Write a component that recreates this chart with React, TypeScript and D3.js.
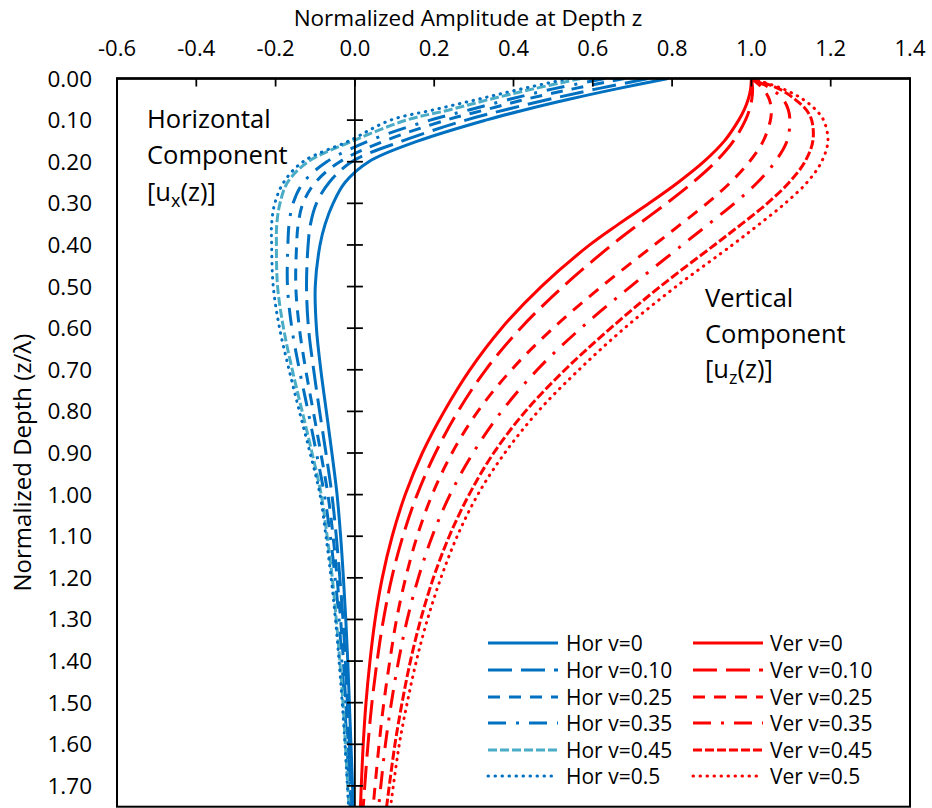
import React from 'react';
import * as d3 from 'd3';

const depths = [0, 0.025, 0.05, 0.075, 0.1, 0.15, 0.2, 0.25, 0.3, 0.35, 0.4, 0.5, 0.6, 0.7, 0.8, 0.9, 1.0, 1.1, 1.2, 1.3, 1.4, 1.5, 1.6, 1.75];

const hor0 = [0.79, 0.66, 0.54, 0.43, 0.33, 0.16, 0.035, -0.025, -0.055, -0.075, -0.088, -0.1, -0.097, -0.086, -0.072, -0.058, -0.045, -0.036, -0.029, -0.023, -0.018, -0.014, -0.01, -0.004];
const hor10 = [0.74, 0.61, 0.49, 0.38, 0.28, 0.12, -0.008, -0.065, -0.097, -0.112, -0.118, -0.122, -0.117, -0.104, -0.089, -0.073, -0.058, -0.047, -0.038, -0.03, -0.024, -0.019, -0.014, -0.008];
const hor25 = [0.68, 0.55, 0.43, 0.33, 0.23, 0.075, -0.038, -0.1, -0.131, -0.143, -0.147, -0.149, -0.14, -0.124, -0.105, -0.086, -0.068, -0.055, -0.045, -0.036, -0.029, -0.023, -0.017, -0.01];
const hor35 = [0.63, 0.5, 0.39, 0.29, 0.19, 0.035, -0.071, -0.13, -0.156, -0.166, -0.169, -0.17, -0.159, -0.14, -0.118, -0.097, -0.077, -0.062, -0.05, -0.04, -0.033, -0.026, -0.02, -0.012];
const hor45 = [0.57, 0.45, 0.34, 0.24, 0.13, -0.005, -0.118, -0.17, -0.189, -0.197, -0.198, -0.195, -0.18, -0.158, -0.133, -0.108, -0.085, -0.07, -0.057, -0.047, -0.038, -0.03, -0.024, -0.015];
const hor50 = [0.54, 0.42, 0.31, 0.2, 0.09, -0.015, -0.131, -0.18, -0.202, -0.21, -0.21, -0.206, -0.19, -0.166, -0.14, -0.113, -0.088, -0.073, -0.06, -0.049, -0.04, -0.032, -0.025, -0.016];

const ver0 = [1.0, 0.998, 0.992, 0.982, 0.968, 0.932, 0.88, 0.815, 0.742, 0.665, 0.592, 0.47, 0.37, 0.29, 0.225, 0.17, 0.127, 0.094, 0.069, 0.051, 0.038, 0.028, 0.021, 0.014];
const ver10 = [1.0, 1.003, 1.001, 0.995, 0.985, 0.955, 0.91, 0.852, 0.786, 0.716, 0.648, 0.525, 0.418, 0.33, 0.26, 0.203, 0.157, 0.121, 0.093, 0.072, 0.056, 0.043, 0.033, 0.021];
const ver25 = [1.0, 1.03, 1.045, 1.05, 1.048, 1.03, 0.995, 0.947, 0.888, 0.822, 0.755, 0.622, 0.5, 0.395, 0.31, 0.245, 0.195, 0.157, 0.128, 0.105, 0.088, 0.073, 0.061, 0.046];
const ver35 = [1.0, 1.05, 1.08, 1.093, 1.097, 1.09, 1.06, 1.015, 0.957, 0.892, 0.826, 0.695, 0.57, 0.46, 0.37, 0.298, 0.24, 0.195, 0.16, 0.132, 0.11, 0.092, 0.077, 0.06];
const ver45 = [1.0, 1.07, 1.11, 1.138, 1.152, 1.155, 1.135, 1.095, 1.04, 0.975, 0.907, 0.77, 0.645, 0.53, 0.43, 0.35, 0.288, 0.238, 0.198, 0.166, 0.14, 0.119, 0.101, 0.08];
const ver50 = [1.0, 1.08, 1.13, 1.162, 1.182, 1.193, 1.177, 1.14, 1.085, 1.02, 0.952, 0.81, 0.68, 0.565, 0.462, 0.378, 0.31, 0.258, 0.217, 0.183, 0.155, 0.132, 0.112, 0.09];

const seriesNames = ['Hor v=0', 'Hor v=0.10', 'Hor v=0.25', 'Hor v=0.35', 'Hor v=0.45', 'Hor v=0.5', 'Ver v=0', 'Ver v=0.10', 'Ver v=0.25', 'Ver v=0.35', 'Ver v=0.45', 'Ver v=0.5'];
const seriesValues = [hor0, hor10, hor25, hor35, hor45, hor50, ver0, ver10, ver25, ver35, ver45, ver50];

const xTicks = [-0.6, -0.4, -0.2, 0.0, 0.2, 0.4, 0.6, 0.8, 1.0, 1.2, 1.4];
const yTicks = [0, 0.1, 0.2, 0.3, 0.4, 0.5, 0.6, 0.7, 0.8, 0.9, 1.0, 1.1, 1.2, 1.3, 1.4, 1.5, 1.6, 1.7];

const BLUE = '#0070C0';
const TEAL = '#4BACC6';
const RED = '#FF0000';
const FONT = "'Open Sans', sans-serif";

const styles = [
  { color: BLUE, dash: null },
  { color: BLUE, dash: '24 9' },
  { color: BLUE, dash: '12 9' },
  { color: BLUE, dash: '18 10 3 10' },
  { color: TEAL, dash: '9 3' },
  { color: BLUE, dash: '0.5 6.5' },
  { color: RED, dash: null },
  { color: RED, dash: '24 9' },
  { color: RED, dash: '12 9' },
  { color: RED, dash: '18 10 3 10' },
  { color: RED, dash: '9 3' },
  { color: RED, dash: '0.5 6.5' },
];

export default function App() {
  const left = 117, right = 910, top = 78.5, bottom = 806.7;
  const x = d3.scaleLinear().domain([-0.6, 1.4]).range([left, right]);
  const y = d3.scaleLinear().domain([0, 1.75]).range([top, bottom]);
  const line = d3.line<number>()
    .x((v) => x(v))
    .y((_, i) => y(depths[i]))
    .curve(d3.curveCatmullRom.alpha(0.5));
  const x0 = x(0);
  const lw = 3;

  const legendRows = [643, 670, 697, 723, 750, 776];

  return (
    <svg width={932} height={808} style={{ position: 'absolute', left: 0, top: 0, background: '#fff' }} fontFamily={FONT}>
      <defs>
        <clipPath id="plotClip">
          <rect x={left} y={top} width={right - left} height={bottom - top} />
        </clipPath>
      </defs>
      <rect x={0} y={0} width={932} height={808} fill="#fff" />
      <text x={468} y={25.5} textAnchor="middle" fontSize={22.5} fill="#000">Normalized Amplitude at Depth z</text>
      {xTicks.map((t) => (
        <text key={'xt' + t} x={x(t)} y={55.5} textAnchor="middle" fontSize={22} fill="#000">{t.toFixed(1)}</text>
      ))}
      {yTicks.map((t) => (
        <text key={'yt' + t} x={92} y={y(t) + 8} textAnchor="end" fontSize={22.5} fill="#000">{t.toFixed(2)}</text>
      ))}
      <text transform={`translate(31,${(top + bottom) / 2 + 20}) rotate(-90)`} textAnchor="middle" fontSize={24} fill="#000">Normalized Depth (z/λ)</text>

      <g clipPath="url(#plotClip)">
        {seriesValues.map((vals, i) => (
          <path key={seriesNames[i]} d={line(vals) || ''} fill="none" stroke={styles[i].color} strokeWidth={lw}
            strokeDasharray={styles[i].dash || undefined} strokeLinecap={i % 6 === 5 ? 'round' : 'butt'} />
        ))}
      </g>

      <line x1={x0} x2={x0} y1={top} y2={bottom} stroke="#000" strokeWidth={1.75} />
      {yTicks.filter((t) => t > 0).map((t) => (
        <line key={'ytk' + t} x1={x0 - 8} x2={x0 + 8} y1={y(t)} y2={y(t)} stroke="#000" strokeWidth={1.75} />
      ))}
      {xTicks.map((t) => (
        <line key={'xtk' + t} x1={x(t)} x2={x(t)} y1={top} y2={top + 8} stroke="#000" strokeWidth={1.75} />
      ))}
      <rect x={left} y={top} width={right - left} height={bottom - top} fill="none" stroke="#000" strokeWidth={2} />
      <line x1={left - 1} x2={right + 1} y1={top} y2={top} stroke="#000" strokeWidth={2.5} />

      <text x={147} y={128} fontSize={25.5} fill="#000">Horizontal</text>
      <text x={147} y={164} fontSize={25.5} fill="#000">Component</text>
      <text x={147} y={201} fontSize={25.5} fill="#000">[u<tspan fontSize={18} dy={6}>x</tspan><tspan dy={-6}>(z)]</tspan></text>
      <text x={705} y={307} fontSize={25.5} fill="#000">Vertical</text>
      <text x={705} y={343} fontSize={25.5} fill="#000">Component</text>
      <text x={705} y={378} fontSize={25.5} fill="#000">[u<tspan fontSize={18} dy={6}>z</tspan><tspan dy={-6}>(z)]</tspan></text>

      {seriesNames.map((name, i) => {
        const col = Math.floor(i / 6);
        const row = i % 6;
        const lx = col === 0 ? 488 : 693;
        const tx = col === 0 ? 566 : 770;
        const ly = legendRows[row];
        return (
          <g key={'lg' + name}>
            <line x1={lx} x2={lx + 70} y1={ly} y2={ly} stroke={styles[i].color} strokeWidth={lw}
              strokeDasharray={styles[i].dash || undefined} strokeLinecap={row === 5 ? 'round' : 'butt'} />
            <text x={tx} y={ly + 7.5} fontSize={21} fill="#000">{name}</text>
          </g>
        );
      })}
    </svg>
  );
}
